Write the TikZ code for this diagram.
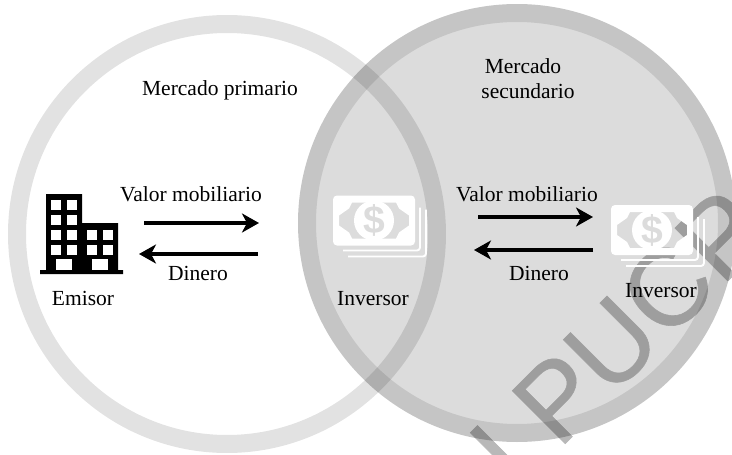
\documentclass[tikz,border=0pt]{standalone}
\usepackage{fontspec}
\setmainfont{Liberation Serif}
\newfontfamily\marcafont{Liberation Sans}
\newfontfamily\sellofont[FakeBold=0.5]{Liberation Sans}
\usetikzlibrary{arrows.meta}
\definecolor{fondo}{HTML}{DCDCDC}
\tikzstyle{etiqueta}=[anchor=base,inner sep=0pt,font=\fontsize{21.5}{25}\selectfont]
\tikzstyle{flecha}=[line width=4.6pt,-{Stealth[length=17pt,width=19pt,inset=5pt]}]
\tikzstyle{marca}=[black,anchor=base west,inner sep=0pt,rotate=45,font=\sellofont\fontsize{109}{109}\selectfont]
\tikzset{
  billete/.pic={
    \draw [white,line width=1.9pt,rounded corners=3pt] (-31,30) -- (46,30) -- (46,-13);
    \draw [white,line width=1.9pt,rounded corners=3pt] (-26,36) -- (52,36) -- (52,-11);
    \fill [white,even odd rule] [rounded corners=4pt] (-41,-25) rectangle (41,25)
      [sharp corners] (-22,-18) -- (-25,-12) -- (-35,-5) -- (-35,5) -- (-25,12) -- (-22,18)
      -- (22,18) -- (25,12) -- (35,5) -- (35,-5) -- (25,-12) -- (22,-18) -- cycle;
    \fill [white] (0,0) circle (20);
    \node [text=fondo,inner sep=0pt,font=\marcafont\bfseries\fontsize{39}{39}\selectfont] (-signo) at (0,0) {\$};
  }
}
\begin{document}
\begin{tikzpicture}[x=1pt,y=-1pt]
\useasboundingbox (0,0) rectangle (732,455);
\clip (0,0) rectangle (732,455);

\fill [black,opacity=0.115] (227,234) circle (219) (227,234) circle (201) [even odd rule];
\fill [fondo,opacity=1,blend mode=multiply] (517,223) circle (219);
\draw [black,opacity=0.1,line width=18pt] (517,223) circle (210);

\begin{scope}[transparency group,opacity=0.28]
\node [marca] (pucp) at (516,493) {I PUCP};
\end{scope}

\pic (dinero1) at (374,220.5) {billete};
\pic (dinero2) at (652,230) {billete};

\fill [black] (46,194) rectangle (82,271) (82,223) rectangle (118,271) (40,270) rectangle (123,274);
\foreach \y in {199.5,214.5,229.5,244.5}{
  \fill [white] (51,\y) rectangle +(10,10);
  \fill [white] (66.5,\y) rectangle +(10,10);
}
\foreach \y in {229.5,244.5}{
  \fill [white] (87,\y) rectangle +(10,10);
  \fill [white] (102.5,\y) rectangle +(10,10);
}
\fill [white] (56,259) rectangle +(16,10.5);
\fill [white] (92,259) rectangle +(16,10.5);

\node [etiqueta] (primario) at (220,95) {Mercado primario};
\node [etiqueta] (secundario1) at (523,74) {Mercado};
\node [etiqueta] (secundario2) at (528,98) {secundario};
\node [etiqueta] (valor1) at (191,201) {Valor mobiliario};
\node [etiqueta] (valor2) at (527,201) {Valor mobiliario};
\node [etiqueta] (pago1) at (198,280) {Dinero};
\node [etiqueta] (pago2) at (539,280) {Dinero};
\node [etiqueta] (emisor) at (83,305) {Emisor};
\node [etiqueta] (inversor1) at (373,305) {Inversor};
\node [etiqueta] (inversor2) at (661,297) {Inversor};

\coordinate (a1) at (144,223);
\coordinate (b1) at (259,223);
\coordinate (c1) at (258,254);
\coordinate (d1) at (139,254);
\coordinate (a2) at (478,217);
\coordinate (b2) at (593,217);
\coordinate (c2) at (593,250);
\coordinate (d2) at (474,250);
\draw [flecha] (a1) -- (b1);
\draw [flecha] (c1) -- (d1);
\draw [flecha] (a2) -- (b2);
\draw [flecha] (c2) -- (d2);
\end{tikzpicture}
\end{document}
